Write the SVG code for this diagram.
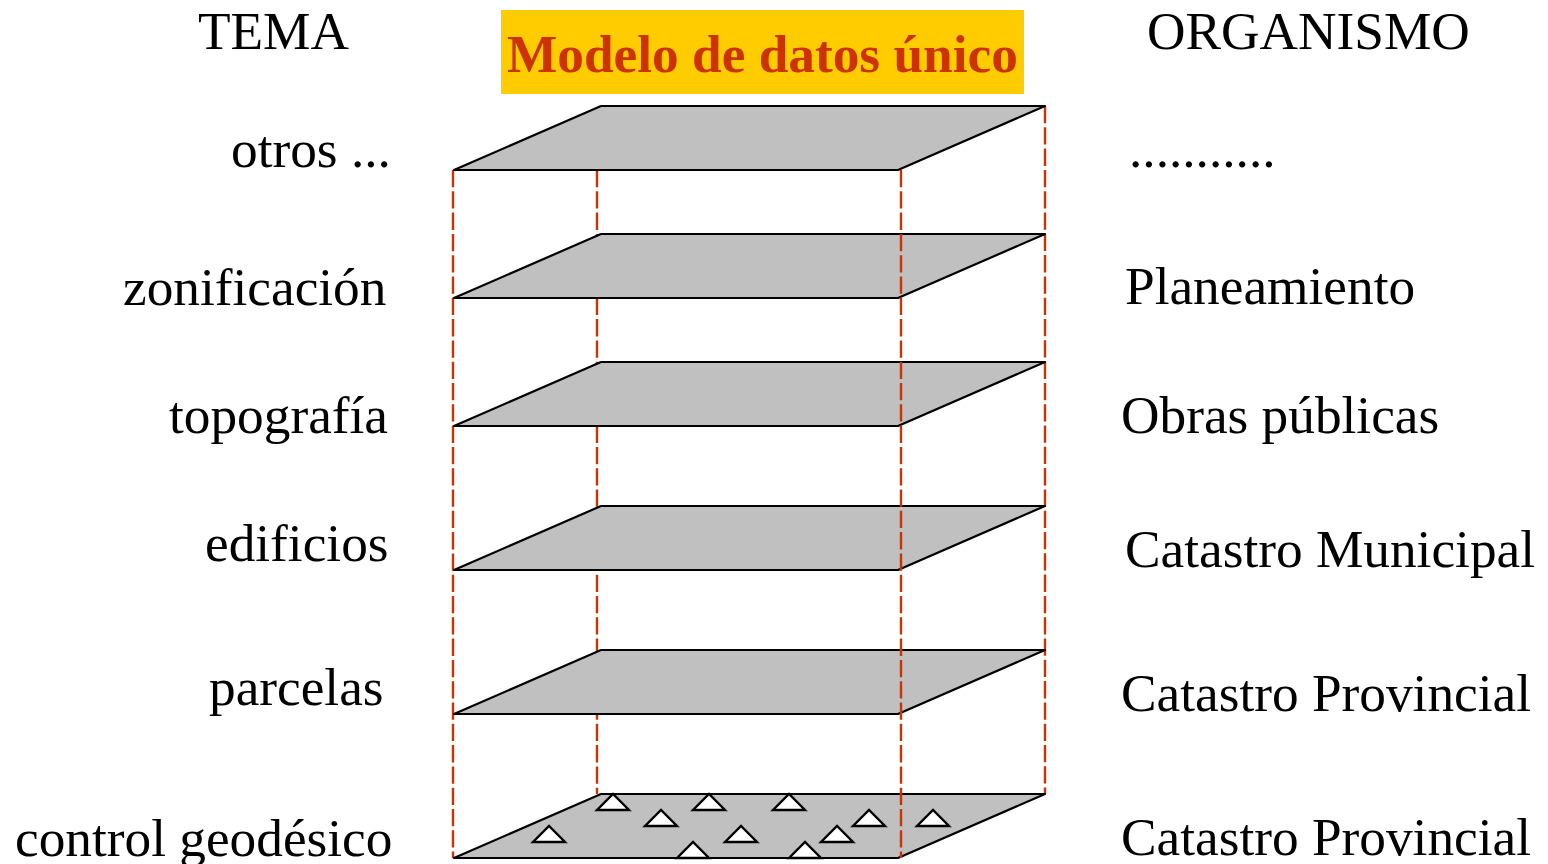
<svg xmlns="http://www.w3.org/2000/svg" width="1548" height="864" viewBox="0 0 1548 864">
<style>
text{font-family:"Liberation Serif","Times New Roman",serif;font-size:53.3px;fill:#000}
.title{font-weight:bold;fill:#cc3300}
.plane{fill:#c0c0c0;stroke:#000;stroke-width:2.2;stroke-linejoin:round}
.tri{fill:#fff;stroke:#000;stroke-width:2.4;stroke-linejoin:miter}
.dash{fill:none;stroke:#cc3300;stroke-width:2.4;stroke-dasharray:17.3 4}
</style>
<defs>
<polygon id="p" class="plane" points="454,64 601,0 1045,0 898,64"/>
<polygon id="t" class="tri" points="0,0 16,-16 32,0"/>
</defs>
<rect width="1548" height="864" fill="#fff"/>
<g id="connectors-back">
<line class="dash" x1="453" y1="170" x2="453" y2="858"/>
<line class="dash" x1="597" y1="170" x2="597" y2="794"/>
<line class="dash" x1="1045" y1="106" x2="1045" y2="794"/>
</g>
<g id="plane-otros"><use href="#p" y="106"/></g>
<g id="plane-zonificacion"><use href="#p" y="234"/></g>
<g id="plane-topografia"><use href="#p" y="362"/></g>
<g id="plane-edificios"><use href="#p" y="506"/></g>
<g id="plane-parcelas"><use href="#p" y="650"/></g>
<g id="plane-control">
<use href="#p" y="794"/>
<use href="#t" x="597" y="810"/><use href="#t" x="693" y="810"/><use href="#t" x="773" y="810"/>
<use href="#t" x="645" y="826"/><use href="#t" x="853" y="826"/><use href="#t" x="917" y="826"/>
<use href="#t" x="533" y="842"/><use href="#t" x="725" y="842"/><use href="#t" x="821" y="842"/>
<use href="#t" x="677" y="858"/><use href="#t" x="789" y="858"/>
</g>
<g id="connectors-front">
<line class="dash" x1="901" y1="170" x2="901" y2="858"/>
</g>
<g id="title"><rect x="501" y="10" width="523" height="84" fill="#ffcc00"/>
<text class="title" x="507" y="72">Modelo de datos único</text></g>
<g id="labels-tema">
<text x="198" y="49">TEMA</text>
<text x="231" y="167">otros ...</text>
<text x="123" y="305">zonificación</text>
<text x="169" y="433">topografía</text>
<text x="205" y="561">edificios</text>
<text x="209" y="705">parcelas</text>
<text x="15" y="856">control geodésico</text>
</g>
<g id="labels-organismo">
<text x="1147" y="49">ORGANISMO</text>
<text x="1129" y="167">...........</text>
<text x="1125" y="304">Planeamiento</text>
<text x="1121" y="433">Obras públicas</text>
<text x="1125" y="567">Catastro Municipal</text>
<text x="1121" y="711">Catastro Provincial</text>
<text x="1121" y="855">Catastro Provincial</text>
</g>
</svg>
